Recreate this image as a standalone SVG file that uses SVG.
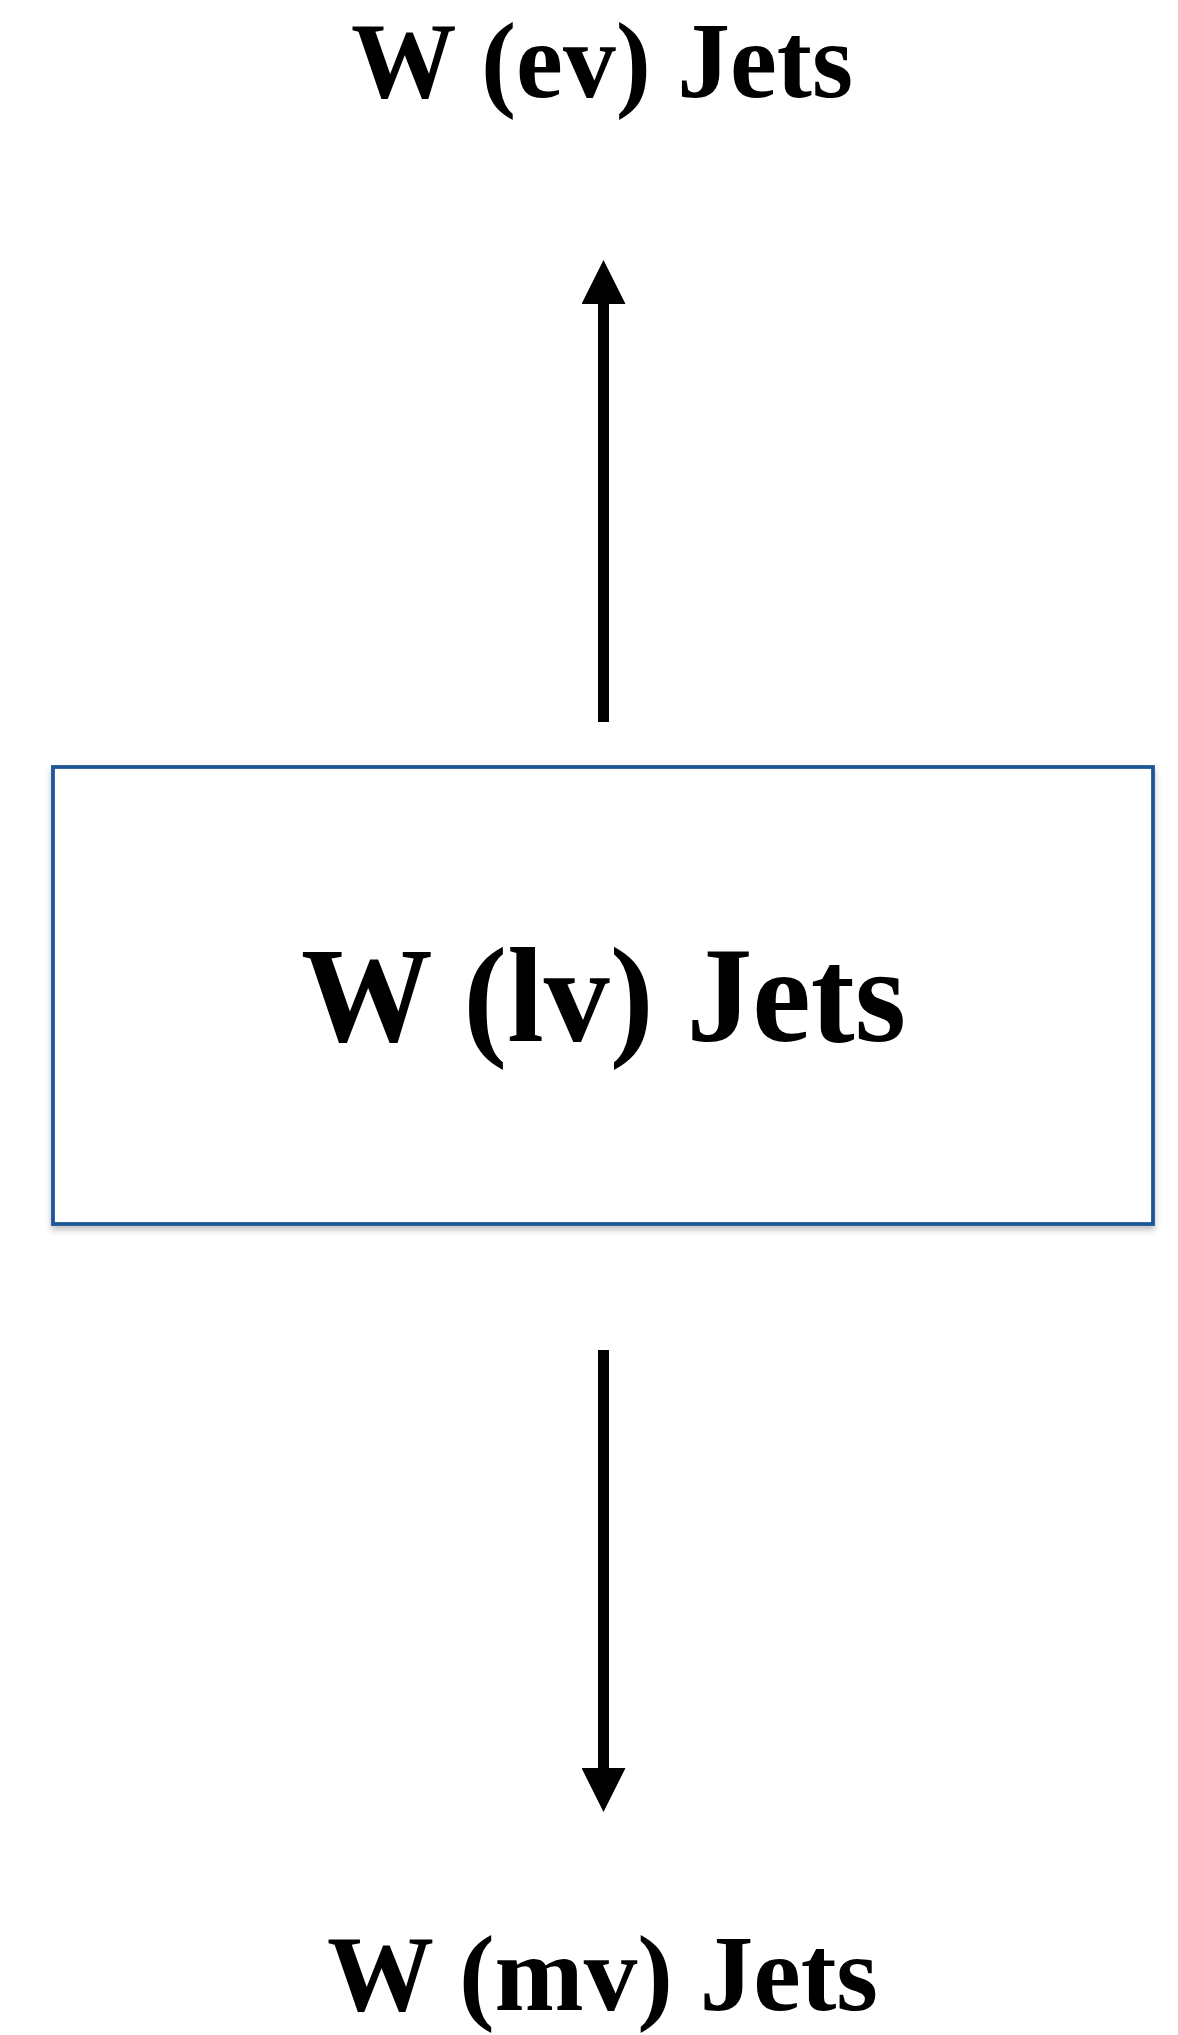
<svg xmlns="http://www.w3.org/2000/svg" width="1178" height="2035" viewBox="0 0 1178 2035">
  <style>
    .lbl { font-family: "Liberation Serif", "Times New Roman", serif; font-weight: bold; fill: #000; }
    .conn { stroke: #000; stroke-width: 11; fill: none; }
    .box { fill: #ffffff; stroke: #1f5794; stroke-width: 3.8; }
  </style>
  <defs>
    <marker id="arrow" viewBox="0 0 10 10" refX="0" refY="5" markerUnits="userSpaceOnUse" markerWidth="44" markerHeight="44" orient="auto">
      <path d="M0,0 L10,5 L0,10 Z" fill="#000"/>
    </marker>
    <filter id="shadow" x="-5%" y="-5%" width="110%" height="115%">
      <feDropShadow dx="0" dy="4" stdDeviation="3" flood-color="#000" flood-opacity="0.25"/>
    </filter>
  </defs>
  <rect width="1178" height="2035" fill="#ffffff"/>

  <g id="node-ev">
    <text class="lbl" x="351" y="97" font-size="109" textLength="502" lengthAdjust="spacingAndGlyphs">W (ev) Jets</text>
  </g>

  <g id="node-lv">
    <rect class="box" x="53" y="767" width="1100" height="457" filter="url(#shadow)"/>
    <text class="lbl" x="301" y="1041" font-size="136" textLength="605" lengthAdjust="spacingAndGlyphs">W (lv) Jets</text>
  </g>

  <g id="node-mv">
    <text class="lbl" x="327" y="2010" font-size="107" textLength="551" lengthAdjust="spacingAndGlyphs">W (mv) Jets</text>
  </g>

  <g id="connectors">
    <line class="conn" x1="603.5" y1="722" x2="603.5" y2="304" marker-end="url(#arrow)"/>
    <line class="conn" x1="603.5" y1="1350" x2="603.5" y2="1768" marker-end="url(#arrow)"/>
  </g>
</svg>
